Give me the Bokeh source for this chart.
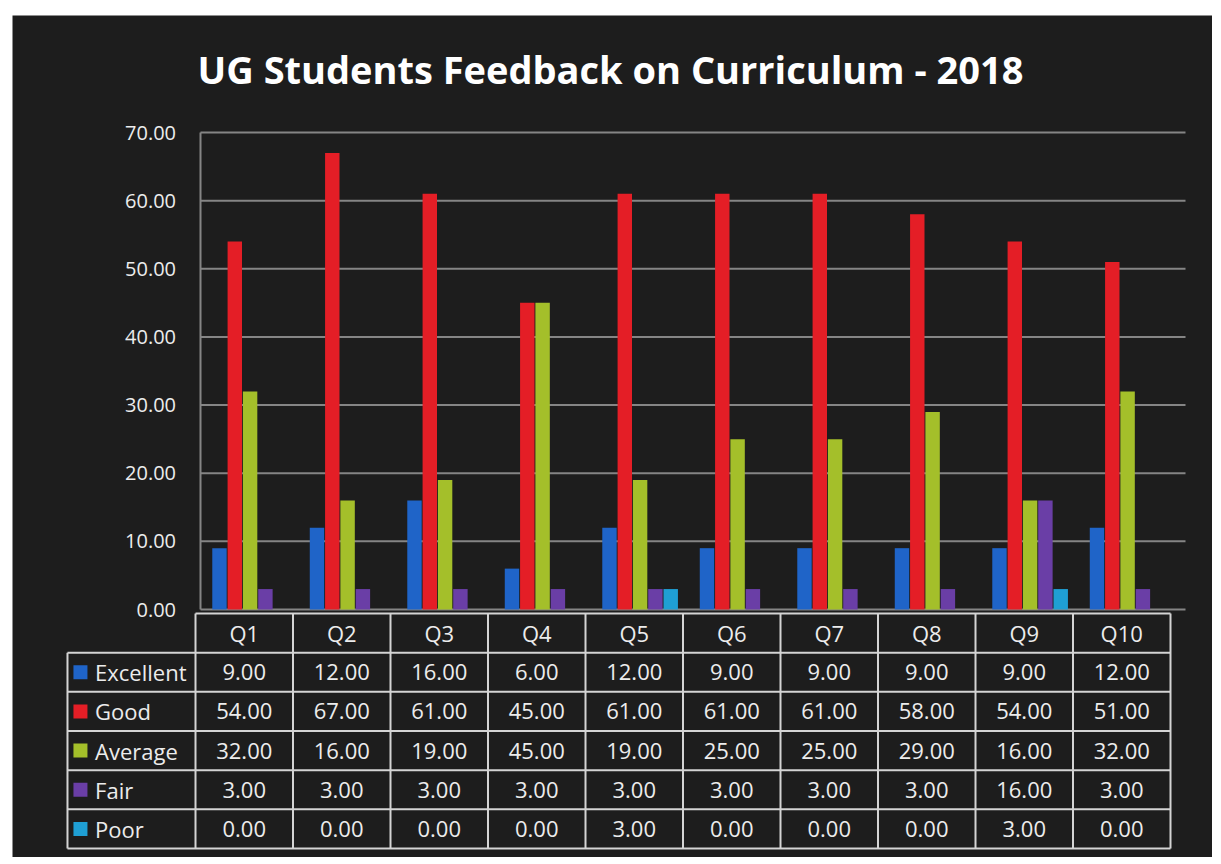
from bokeh.plotting import figure
from bokeh.models import Range1d, Grid, Spacer
from bokeh.layouts import column, row
from bokeh.embed import file_html
from bokeh.resources import INLINE
from bokeh.core.properties import value

title_text = "UG Students Feedback on Curriculum - 2018"
questions = ["Q1", "Q2", "Q3", "Q4", "Q5", "Q6", "Q7", "Q8", "Q9", "Q10"]
series = ["Excellent", "Good", "Average", "Fair", "Poor"]
excellent = [9, 12, 16, 6, 12, 9, 9, 9, 9, 12]
good = [54, 67, 61, 45, 61, 61, 61, 58, 54, 51]
average = [32, 16, 19, 45, 19, 25, 25, 29, 16, 32]
fair = [3, 3, 3, 3, 3, 3, 3, 3, 16, 3]
poor = [0, 0, 0, 0, 3, 0, 0, 0, 3, 0]
y_ticks = [0, 10, 20, 30, 40, 50, 60, 70]
colors = ["#1f64c8", "#e41e26", "#a4bf2a", "#6a3ea6", "#1f9fd4"]

values = [excellent, good, average, fair, poor]

BG = "#1d1d1d"
TXT = "#ececec"
GRID = "#858585"
LINE = "#d4d4d4"
FONT = "Open Sans"

# ---- layout constants (page pixels) ----
FX0, FY0, W, H = 12, 15, 1200, 842          # figure origin and size
COL_X0, COL_W = 195, 97.5                  # left edge of Q1 column, column width
ZERO_Y, TOP_Y = 609, 132                   # pixel rows of 0 and 70 on the value axis
TAB_TOP, TAB_BOT = 613, 848                # table top / bottom pixel rows
PLOT_RIGHT = 1185

s = (ZERO_Y - TOP_Y) / (y_ticks[-1] - y_ticks[0])
nrows = len(series)
r = (TAB_BOT - TAB_TOP) / (nrows + 1)

x_range = Range1d((FX0 - COL_X0) / COL_W, (FX0 + W - COL_X0) / COL_W)
y_range = Range1d(-(FY0 + H - ZERO_Y) / s, (ZERO_Y - FY0) / s)

p = figure(width=W, height=H, x_range=x_range, y_range=y_range,
           x_axis_location=None, y_axis_location=None,
           output_backend="svg", toolbar_location=None,
           min_border=0, background_fill_color=BG, border_fill_color=BG)
p.outline_line_color = None
for g in p.select(type=Grid):
    g.visible = False

p.extra_y_ranges = {
    "table": Range1d(-(FY0 + H - TAB_BOT) / r, (TAB_BOT - FY0) / r),
    "page": Range1d(FY0 + H, FY0),
}
p.extra_x_ranges = {"page": Range1d(FX0, FX0 + W)}

# ---------------- title ----------------
p.text(x=[610], y=[68], text=[title_text], x_range_name="page", y_range_name="page",
       text_font=value(FONT), text_font_size="38px", text_font_style="bold",
       text_color="#ffffff", text_align="center", text_baseline="middle")

# ---------------- chart ----------------
n = len(questions)
plot_x0 = 5 / COL_W
plot_x1 = (PLOT_RIGHT - COL_X0) / COL_W
p.segment(x0=[plot_x0] * len(y_ticks), y0=y_ticks,
          x1=[plot_x1] * len(y_ticks), y1=y_ticks,
          line_color=GRID, line_width=2)
p.segment(x0=[plot_x0], y0=[y_ticks[0]], x1=[plot_x0], y1=[y_ticks[-1]],
          line_color=GRID, line_width=2)
p.text(x=[-0.2] * len(y_ticks), y=y_ticks, text=[f"{v:.2f}" for v in y_ticks],
       text_font=value(FONT), text_font_size="20px", text_color=TXT,
       text_align="right", text_baseline="middle")

for k, (name, vals, col) in enumerate(zip(series, values, colors)):
    xs = [i + 0.5 + 0.06 + (k - 2) * 0.157 for i in range(n)]
    p.vbar(x=xs, top=vals, bottom=0, width=0.148,
           fill_color=col, line_color=None)

# ---------------- data table ----------------
left_edge = -1.313
hx0, hy0, hx1, hy1 = [], [], [], []
for rr in range(nrows + 1):
    hx0.append(left_edge); hx1.append(n); hy0.append(rr); hy1.append(rr)
hx0.append(0); hx1.append(n); hy0.append(nrows + 1); hy1.append(nrows + 1)
p.segment(hx0, hy0, hx1, hy1, y_range_name="table", line_color=LINE, line_width=2)
vx0, vy0, vx1, vy1 = [], [], [], []
for c in range(n + 1):
    vx0.append(c); vx1.append(c); vy0.append(0); vy1.append(nrows + 1)
vx0.append(left_edge); vx1.append(left_edge); vy0.append(0); vy1.append(nrows)
p.segment(vx0, vy0, vx1, vy1, y_range_name="table", line_color=LINE, line_width=2)

p.text(x=[i + 0.5 for i in range(n)], y=[nrows + 0.5] * n, text=questions,
       y_range_name="table",
       text_font=value(FONT), text_font_size="22px", text_color=TXT,
       text_align="center", text_baseline="middle")

cx, cy, ct = [], [], []
for k, vals in enumerate(values):
    for i, v in enumerate(vals):
        cx.append(i + 0.5)
        cy.append(nrows - k - 0.5)
        ct.append(f"{v:.2f}")
p.text(x=cx, y=cy, text=ct, y_range_name="table",
       text_font=value(FONT), text_font_size="22px",
       text_color=TXT, text_align="center", text_baseline="middle")

ly = [nrows - k - 0.5 for k in range(nrows)]
p.scatter(x=[-1.18] * nrows, y=ly, y_range_name="table", marker="square", size=14,
          fill_color=colors, line_color=None)
p.text(x=[-1.03] * nrows, y=ly, text=series, y_range_name="table",
       text_font=value(FONT), text_font_size="22px", text_color=TXT,
       text_align="left", text_baseline="middle")

layout = column(Spacer(height=FY0),
                row(Spacer(width=FX0), p, spacing=0),
                spacing=0)
open("out.html", "w").write(file_html(layout, INLINE))
